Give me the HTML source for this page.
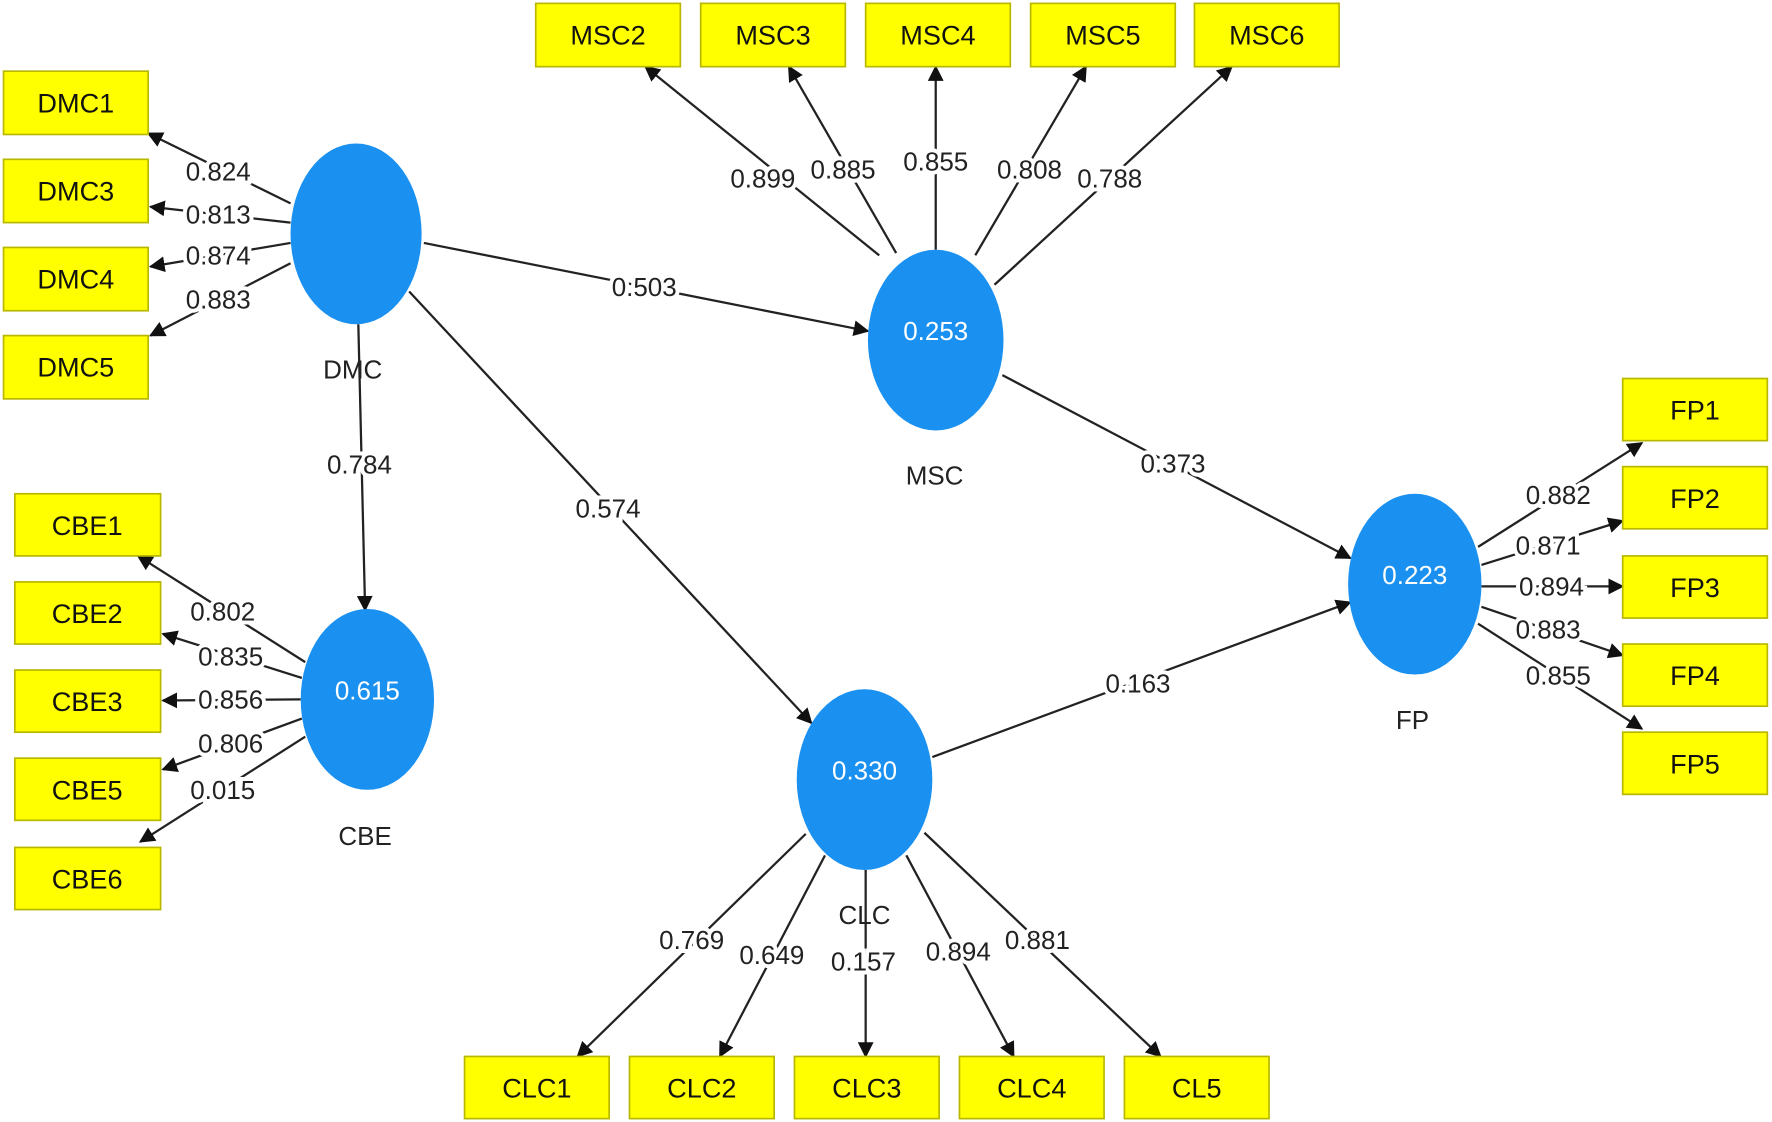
<!DOCTYPE html>
<html><head><meta charset="utf-8"><style>
html,body{margin:0;padding:0;background:#fff;}
svg{display:block;}
text{font-family:"Liberation Sans Narrow","Liberation Sans",sans-serif;}
</style></head><body>
<svg width="1772" height="1122" viewBox="0 0 1568 993" xmlns="http://www.w3.org/2000/svg">
<defs>
<marker id="a" viewBox="0 0 10 10" refX="9" refY="5" markerWidth="9" markerHeight="9" markerUnits="userSpaceOnUse" orient="auto"><path d="M0,0 L10,5 L0,10 z" fill="#111"/></marker>
<marker id="b" viewBox="0 0 10 10" refX="9" refY="5" markerWidth="14" markerHeight="14" markerUnits="userSpaceOnUse" orient="auto"><path d="M0,0 L10,5 L0,10 z" fill="#111"/></marker>
</defs>
<rect width="1568" height="993" fill="#fff"/>
<g stroke="#222" stroke-width="2" fill="none">
<!-- DMC -->
<line x1="257" y1="180" x2="131" y2="118" marker-end="url(#b)"/>
<line x1="257" y1="197" x2="133" y2="183" marker-end="url(#b)"/>
<line x1="257" y1="215" x2="133" y2="236" marker-end="url(#b)"/>
<line x1="257" y1="233" x2="133" y2="297" marker-end="url(#b)"/>
<!-- structural -->
<line x1="375" y1="215" x2="768" y2="293" marker-end="url(#b)"/>
<line x1="317" y1="287" x2="323" y2="540" marker-end="url(#b)"/>
<line x1="362" y1="258" x2="718" y2="640" marker-end="url(#b)"/>
<line x1="887" y1="332" x2="1195" y2="494" marker-end="url(#b)"/>
<line x1="825" y1="670" x2="1195" y2="533" marker-end="url(#b)"/>
<!-- MSC -->
<line x1="778" y1="226" x2="571" y2="59" marker-end="url(#b)"/>
<line x1="793" y1="224" x2="698" y2="59" marker-end="url(#b)"/>
<line x1="828" y1="221" x2="828" y2="59" marker-end="url(#b)"/>
<line x1="863" y1="226" x2="961" y2="59" marker-end="url(#b)"/>
<line x1="880" y1="252" x2="1090" y2="59" marker-end="url(#b)"/>
<!-- CBE -->
<line x1="270" y1="586" x2="122" y2="492" marker-end="url(#b)"/>
<line x1="267" y1="600" x2="144" y2="561" marker-end="url(#b)"/>
<line x1="266" y1="619" x2="144" y2="620" marker-end="url(#b)"/>
<line x1="267" y1="636" x2="144" y2="681" marker-end="url(#b)"/>
<line x1="270" y1="652" x2="124" y2="745" marker-end="url(#b)"/>
<!-- FP -->
<line x1="1308" y1="484" x2="1453" y2="392" marker-end="url(#b)"/>
<line x1="1311" y1="500" x2="1436" y2="461" marker-end="url(#b)"/>
<line x1="1311" y1="519" x2="1436" y2="519" marker-end="url(#b)"/>
<line x1="1311" y1="537" x2="1436" y2="580" marker-end="url(#b)"/>
<line x1="1308" y1="552" x2="1453" y2="645" marker-end="url(#b)"/>
<!-- CLC -->
<line x1="713" y1="738" x2="511" y2="935" marker-end="url(#b)"/>
<line x1="730" y1="757" x2="637" y2="935" marker-end="url(#b)"/>
<line x1="766" y1="770" x2="766" y2="935" marker-end="url(#b)"/>
<line x1="802" y1="757" x2="897" y2="935" marker-end="url(#b)"/>
<line x1="818" y1="737" x2="1027" y2="935" marker-end="url(#b)"/>
</g>
<g fill="#ffff00" stroke="#b8b800" stroke-width="1.5">
<rect x="3" y="63" width="128" height="56"/><rect x="3" y="141" width="128" height="56"/><rect x="3" y="219" width="128" height="56"/><rect x="3" y="297" width="128" height="56"/>
<rect x="474" y="3" width="128" height="56"/><rect x="620" y="3" width="128" height="56"/><rect x="766" y="3" width="128" height="56"/><rect x="912" y="3" width="128" height="56"/><rect x="1057" y="3" width="128" height="56"/>
<rect x="13" y="437" width="129" height="55"/><rect x="13" y="515" width="129" height="55"/><rect x="13" y="593" width="129" height="55"/><rect x="13" y="671" width="129" height="55"/><rect x="13" y="750" width="129" height="55"/>
<rect x="1436" y="335" width="128" height="55"/><rect x="1436" y="413" width="128" height="55"/><rect x="1436" y="492" width="128" height="55"/><rect x="1436" y="570" width="128" height="55"/><rect x="1436" y="648" width="128" height="55"/>
<rect x="411" y="935" width="128" height="55"/><rect x="557" y="935" width="128" height="55"/><rect x="703" y="935" width="128" height="55"/><rect x="849" y="935" width="128" height="55"/><rect x="995" y="935" width="128" height="55"/>
</g>
<g fill="#1a90f0">
<ellipse cx="315" cy="207" rx="58" ry="80"/>
<ellipse cx="828" cy="301" rx="60" ry="80"/>
<ellipse cx="325" cy="619" rx="59" ry="80"/>
<ellipse cx="765" cy="690" rx="60" ry="80"/>
<ellipse cx="1252" cy="517" rx="59" ry="80"/>
</g>
<g font-size="24" fill="#111" text-anchor="middle" dominant-baseline="central">
<text x="67" y="91">DMC1</text><text x="67" y="169">DMC3</text><text x="67" y="247">DMC4</text><text x="67" y="325">DMC5</text>
<text x="538" y="31">MSC2</text><text x="684" y="31">MSC3</text><text x="830" y="31">MSC4</text><text x="976" y="31">MSC5</text><text x="1121" y="31">MSC6</text>
<text x="77" y="465">CBE1</text><text x="77" y="543">CBE2</text><text x="77" y="621">CBE3</text><text x="77" y="699">CBE5</text><text x="77" y="778">CBE6</text>
<text x="1500" y="363">FP1</text><text x="1500" y="441">FP2</text><text x="1500" y="520">FP3</text><text x="1500" y="598">FP4</text><text x="1500" y="676">FP5</text>
<text x="475" y="963">CLC1</text><text x="621" y="963">CLC2</text><text x="767" y="963">CLC3</text><text x="913" y="963">CLC4</text><text x="1059" y="963">CL5</text>
</g>
<g font-size="23" fill="#fff" text-anchor="middle" dominant-baseline="central">
<text x="828" y="293">0.253</text><text x="325" y="611">0.615</text><text x="765" y="682">0.330</text><text x="1252" y="509">0.223</text>
</g>
<g font-size="23" fill="#222" text-anchor="middle" dominant-baseline="central">
<text x="312" y="327">DMC</text><text x="827" y="421">MSC</text><text x="323" y="740">CBE</text><text x="765" y="810">CLC</text><text x="1250" y="637">FP</text>
</g>
<g font-size="23" fill="#222" text-anchor="middle" dominant-baseline="central" stroke="#fff" stroke-width="7" paint-order="stroke">
<text x="193" y="152">0.824</text><text x="193" y="190">0.813</text><text x="193" y="226">0.874</text><text x="193" y="265">0.883</text>
<text x="570" y="254">0.503</text><text x="318" y="411">0.784</text><text x="538" y="450">0.574</text><text x="1038" y="410">0.373</text><text x="1007" y="605">0.163</text>
<text x="675" y="158">0.899</text><text x="746" y="150">0.885</text><text x="828" y="143">0.855</text><text x="911" y="150">0.808</text><text x="982" y="158">0.788</text>
<text x="197" y="541">0.802</text><text x="204" y="581">0.835</text><text x="204" y="619">0.856</text><text x="204" y="658">0.806</text><text x="197" y="699">0.015</text>
<text x="1379" y="438">0.882</text><text x="1370" y="483">0.871</text><text x="1373" y="519">0.894</text><text x="1370" y="557">0.883</text><text x="1379" y="598">0.855</text>
<text x="612" y="832">0.769</text><text x="683" y="845">0.649</text><text x="764" y="851">0.157</text><text x="848" y="842">0.894</text><text x="918" y="832">0.881</text>
</g>
</svg>
</body></html>
